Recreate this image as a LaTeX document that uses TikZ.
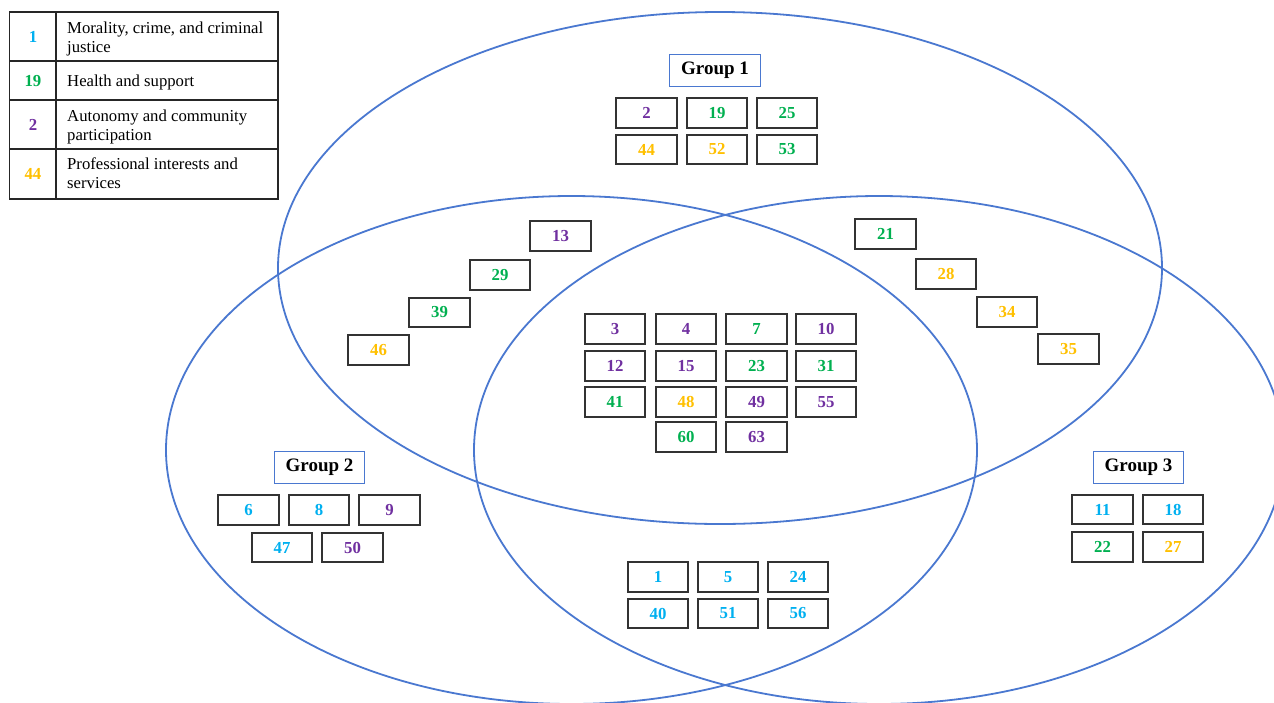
\documentclass[tikz,border=0pt]{standalone}
\usepackage{fontspec}
\setmainfont{Liberation Serif}
\definecolor{vblue}{HTML}{4A78D0}
\definecolor{ccyan}{HTML}{00B0F0}
\definecolor{cgreen}{HTML}{00B050}
\definecolor{cpurple}{HTML}{7030A0}
\definecolor{corange}{HTML}{FFC000}
\definecolor{boxline}{HTML}{333333}
\begin{document}
\begin{tikzpicture}[x=1pt,y=-1pt,
  num/.style={draw=boxline, line width=1.8pt, minimum width=60.5pt, minimum height=29.5pt, inner sep=0pt, font=\fontsize{16.8}{18}\selectfont\bfseries},
  grp/.style={draw=vblue, line width=1.4pt, minimum width=90.5pt, minimum height=32pt, inner sep=0pt, font=\fontsize{19}{22}\selectfont\bfseries},
  venn/.style={draw=vblue, line width=1.8pt},
  legnum/.style={inner sep=0pt, font=\fontsize{16.8}{18}\selectfont\bfseries},
  legtxt/.style={anchor=base west, inner sep=0pt, font=\fontsize{16.7}{18.8}\selectfont},
  legline/.style={draw=black!85, line width=1.5pt}]
\useasboundingbox (0,0) rectangle (1274,702);
\fill[white] (0,0) rectangle (1274,702);
\begin{scope}
\clip (0,0) rectangle (1274,702);
\draw[venn] (720,268) ellipse [x radius=442pt, y radius=256pt];
\draw[venn] (571.5,450) ellipse [x radius=405.5pt, y radius=254pt];
\draw[venn] (879,450) ellipse [x radius=405pt, y radius=254pt];
\end{scope}

% legend
\draw[legline] (9.5,12) rectangle (278,199);
\draw[legline] (56,12) -- (56,199);
\draw[legline] (9.5,61) -- (278,61);
\draw[legline] (9.5,100) -- (278,100);
\draw[legline] (9.5,149) -- (278,149);
\node[legnum, text=ccyan] (L1) at (33,37) {1};
\node[legnum, text=cgreen] (L2) at (33,81) {19};
\node[legnum, text=cpurple] (L3) at (33,125) {2};
\node[legnum, text=corange] (L4) at (33,174) {44};
\node[legtxt] (T1) at (67,33.3) {\vtop{\hbox{Morality, crime, and criminal}\hbox{justice}}};
\node[legtxt] (T2) at (67,86) {Health and support};
\node[legtxt] (T3) at (67,121.3) {\vtop{\hbox{Autonomy and community}\hbox{participation}}};
\node[legtxt] (T4) at (67,169.5) {\vtop{\hbox{Professional interests and}\hbox{services}}};

% group labels
\node[grp] (G1) at (715,70.5) {Group 1};
\node[grp] (G2) at (319.5,467.5) {Group 2};
\node[grp] (G3) at (1138.5,467.5) {Group 3};

% group 1 only
\node[num, text=cpurple] (a2) at (646.5,113) {2};
\node[num, text=cgreen] (a19) at (717,113) {19};
\node[num, text=cgreen] (a25) at (787,113) {25};
\node[num, text=corange] (a44) at (646.5,149.5) {44};
\node[num, text=corange] (a52) at (717,149.5) {52};
\node[num, text=cgreen] (a53) at (787,149.5) {53};

% group 1 & 2
\node[num, text=cpurple] (b13) at (560.5,236) {13};
\node[num, text=cgreen] (b29) at (500,275) {29};
\node[num, text=cgreen] (b39) at (439.5,312.5) {39};
\node[num, text=corange] (b46) at (378.5,350) {46};

% group 1 & 3
\node[num, text=cgreen] (c21) at (885.5,234) {21};
\node[num, text=corange] (c28) at (946,274) {28};
\node[num, text=corange] (c34) at (1007,312) {34};
\node[num, text=corange] (c35) at (1068.5,349) {35};

% all three
\node[num, text=cpurple] (d3) at (615,329) {3};
\node[num, text=cpurple] (d4) at (686,329) {4};
\node[num, text=cgreen] (d7) at (756.5,329) {7};
\node[num, text=cpurple] (d10) at (826,329) {10};
\node[num, text=cpurple] (d12) at (615,366) {12};
\node[num, text=cpurple] (d15) at (686,366) {15};
\node[num, text=cgreen] (d23) at (756.5,366) {23};
\node[num, text=cgreen] (d31) at (826,366) {31};
\node[num, text=cgreen] (d41) at (615,402) {41};
\node[num, text=corange] (d48) at (686,402) {48};
\node[num, text=cpurple] (d49) at (756.5,402) {49};
\node[num, text=cpurple] (d55) at (826,402) {55};
\node[num, text=cgreen] (d60) at (686,437) {60};
\node[num, text=cpurple] (d63) at (756.5,437) {63};

% group 2 only
\node[num, text=ccyan] (e6) at (248.5,510) {6};
\node[num, text=ccyan] (e8) at (319,510) {8};
\node[num, text=cpurple] (e9) at (389.5,510) {9};
\node[num, text=ccyan] (e47) at (282,547.5) {47};
\node[num, text=cpurple] (e50) at (352.5,547.5) {50};

% group 3 only
\node[num, text=ccyan] (f11) at (1102.5,509.5) {11};
\node[num, text=ccyan] (f18) at (1173,509.5) {18};
\node[num, text=cgreen] (f22) at (1102.5,547) {22};
\node[num, text=corange] (f27) at (1173,547) {27};

% group 2 & 3
\node[num, text=ccyan] (g1) at (658,577) {1};
\node[num, text=ccyan] (g5) at (728,577) {5};
\node[num, text=ccyan] (g24) at (798,577) {24};
\node[num, text=ccyan] (g40) at (658,613.5) {40};
\node[num, text=ccyan] (g51) at (728,613.5) {51};
\node[num, text=ccyan] (g56) at (798,613.5) {56};
\end{tikzpicture}
\end{document}
